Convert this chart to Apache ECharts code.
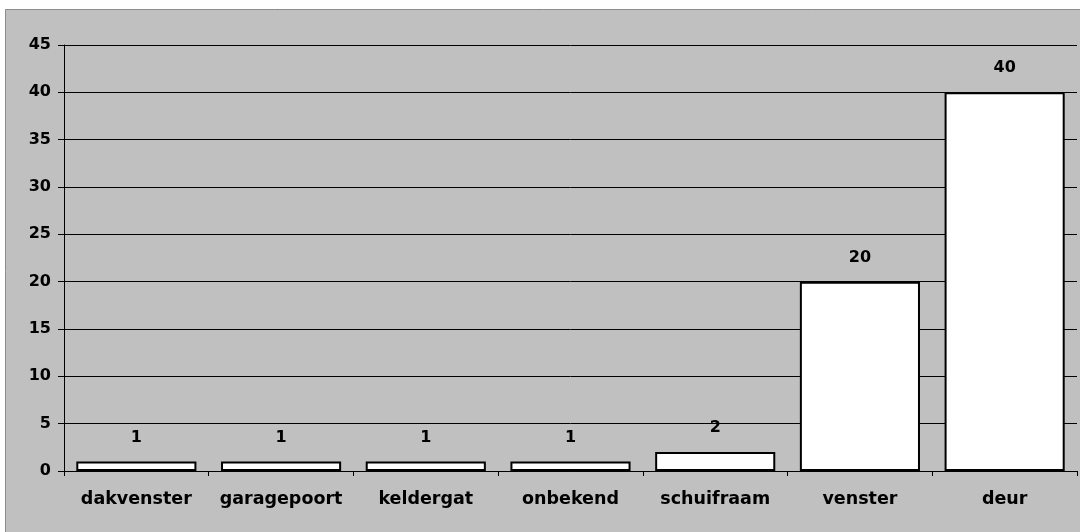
<!DOCTYPE html>
<html>
<head>
<meta charset="utf-8">
<script src="https://cdn.jsdelivr.net/npm/echarts@6/dist/echarts.min.js"></script>
<style>html,body{margin:0;padding:0;background:#fff;}#c{width:1080px;height:532px;}</style>
</head>
<body>
<div id="c"></div>
<script>
const categories = ['dakvenster', 'garagepoort', 'keldergat', 'onbekend', 'schuifraam', 'venster', 'deur'];
const values = [1, 1, 1, 1, 2, 20, 40];
const yTicks = [0, 5, 10, 15, 20, 25, 30, 35, 40, 45];

const chart = echarts.init(document.getElementById('c'), null, {renderer: 'canvas'});
const font = '"DejaVu Sans", sans-serif';
chart.setOption({
  animation: false,
  backgroundColor: '#fff',
  graphic: [{
    type: 'rect', z: -10, silent: true,
    shape: {x: 5.5, y: 9.5, width: 1080, height: 540},
    style: {fill: '#C0C0C0', stroke: '#8c8c8c', lineWidth: 1}
  }],
  grid: {left: 64, right: 3, top: 45, bottom: 61, containLabel: false},
  xAxis: {
    type: 'category',
    data: categories,
    axisLine: {lineStyle: {color: '#000', width: 1}},
    axisTick: {show: true, length: 5, interval: 0, lineStyle: {color: '#000'}, alignWithLabel: false},
    axisLabel: {interval: 0, hideOverlap: false, color: '#000', fontFamily: font, fontWeight: 'bold', fontSize: 17.5, margin: 19}
  },
  yAxis: {
    type: 'value',
    min: yTicks[0], max: yTicks[yTicks.length - 1], interval: 5,
    axisLine: {show: true, lineStyle: {color: '#000', width: 1}},
    axisTick: {show: true, length: 6, lineStyle: {color: '#000'}},
    splitLine: {show: true, lineStyle: {color: '#000', width: 1}},
    axisLabel: {color: '#000', fontFamily: font, fontWeight: 'bold', fontSize: 16, margin: 13}
  },
  series: [{
    type: 'bar',
    data: values,
    barCategoryGap: '17%',
    itemStyle: {color: '#fff', borderColor: '#000', borderWidth: 2},
    label: {show: true, position: 'top', distance: 16, color: '#000', fontFamily: font, fontWeight: 'bold', fontSize: 16}
  }]
});
</script>
</body>
</html>
